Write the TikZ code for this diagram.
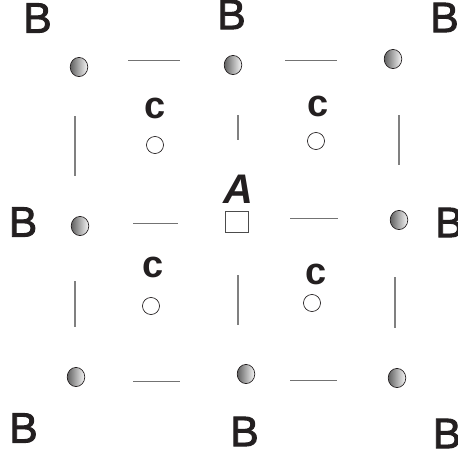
\documentclass[tikz,border=0pt]{standalone}
\usepackage{fontspec}
\setmainfont{Liberation Sans}
\newfontfamily\blabelfont[FakeBold=2.2]{Liberation Sans}
\usetikzlibrary{shapes.geometric}
\definecolor{ink}{HTML}{231F20}
\tikzset{
 x=0.75pt,y=-0.75pt,
 atom/.style={ellipse,draw=ink,line width=0.5pt,minimum width=13.2pt,minimum height=14.4pt,inner sep=0pt,left color=black!62,right color=black!3},
 hole/.style={circle,draw=ink,line width=0.5pt,minimum size=12.8pt,inner sep=0pt,fill=white},
 site/.style={rectangle,draw=black!70,line width=0.5pt,minimum width=17pt,minimum height=15.8pt,inner sep=0pt,fill=white},
 bondh/.style={draw=black!55,line width=0.7pt},
 bondv/.style={draw=black!50,line width=0.8pt},
 blabel/.style={font=\blabelfont\fontsize{32}{32}\selectfont,text=ink,inner sep=0pt},
 clabel/.style={font=\fontsize{28.5}{28.5}\selectfont\bfseries,text=ink,inner sep=0pt},
 alabel/.style={font=\fontsize{31}{31}\selectfont\bfseries\itshape,text=ink,inner sep=0pt},
}
\begin{document}
\begin{tikzpicture}
\useasboundingbox (0,0) rectangle (458,457);
\foreach \n/\x/\y in {a1/79/67,a2/233/65,a3/393/59,a4/80/226,a5/399/220,a6/76/377,a7/246/374,a8/397/378}
  \node[atom] (\n) at (\x,\y) {};
\foreach \n/\x/\y in {h1/155/145,h2/316/141,h3/151/306,h4/312/303}
  \node[hole] (\n) at (\x,\y) {};
\node[site] (s) at (237,222) {};
\foreach \n/\x/\y in {b1/37.5/18,b2/231.5/14.5,b3/444.5/17.5,b4/23/222,b5/449.5/222.5,b6/23.5/428,b7/244.5/431.5,b8/447/433.5}
  \node[blabel] (\n) at (\x,\y) {B};
\node[clabel] (c1) at (155,108) {c};
\node[clabel] (c2) at (318,106) {c};
\node[clabel] (c3) at (153,267) {c};
\node[clabel] (c4) at (316.5,274) {c};
\node[alabel] (la) at (238.5,189.5) {A};
\foreach \xa/\xb/\y in {128/180/60,285/337/60,133/178/223,290/338/218,133/180/381,290/337/380}
  \draw[bondh] (\xa,\y) -- (\xb,\y);
\foreach \x/\ya/\yb in {75/116/176,238/115/140,399/115/165,75/281/327,238/275/325,395/277/328}
  \draw[bondv] (\x,\ya) -- (\x,\yb);
\end{tikzpicture}
\end{document}
